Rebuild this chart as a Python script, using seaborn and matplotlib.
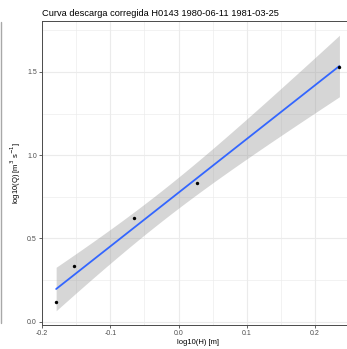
import numpy as np
import pandas as pd
import matplotlib
matplotlib.use("Agg")
import matplotlib.pyplot as plt
import seaborn as sns
from matplotlib.lines import Line2D
from matplotlib.ticker import MultipleLocator

# values
log_h = [-0.1795, -0.153, -0.065, 0.027, 0.236]
log_q = [0.12, 0.335, 0.62, 0.835, 1.53]
title = "Curva descarga corregida H0143 1980-06-11 1981-03-25"
x_ticks = [-0.2, -0.1, 0.0, 0.1, 0.2]
y_ticks = [0.0, 0.5, 1.0, 1.5]

df = pd.DataFrame({"log_h": log_h, "log_q": log_q})

sns.set_theme(style="whitegrid")
plt.rcParams["font.family"] = ["Liberation Sans", "DejaVu Sans"]

fig = plt.figure(figsize=(3.47, 3.49), dpi=100)
ax = fig.add_axes([0.121, 0.0702, 0.898, 0.8682])

# linear fit with t-based 95% band (like geom_smooth(method="lm"))
x = df["log_h"].to_numpy()
y = df["log_q"].to_numpy()
n = len(x)
slope, intercept = np.polyfit(x, y, 1)
resid = y - (intercept + slope * x)
s = np.sqrt(np.sum(resid ** 2) / (n - 2))
sxx = np.sum((x - x.mean()) ** 2)
t_crit = 3.182446  # t(0.975, df=3)
xs = np.linspace(x.min(), x.max(), 100)
fit = intercept + slope * xs
half = t_crit * s * np.sqrt(1 / n + (xs - x.mean()) ** 2 / sxx)

ax.fill_between(xs, fit - half, fit + half, color="#999999", alpha=0.4,
                linewidth=0, zorder=2)
sns.regplot(data=df, x="log_h", y="log_q", ax=ax, ci=None, scatter=False,
            line_kws={"color": "#3366FF", "lw": 1.3, "zorder": 3})
sns.scatterplot(data=df, x="log_h", y="log_q", ax=ax, color="black", s=6,
                linewidth=0, zorder=4)

# ggplot-like 5% expansion
xr = x.max() - x.min()
ax.set_xlim(x.min() - 0.05 * xr, x.max() + 0.05 * xr)
lo, hi = (fit - half).min(), (fit + half).max()
yr = hi - lo
ax.set_ylim(lo - 0.05 * yr, hi + 0.05 * yr)

ax.set_xticks(x_ticks)
ax.set_yticks(y_ticks)
ax.set_xticklabels([f"{v:.1f}" for v in x_ticks])
ax.set_yticklabels([f"{v:.1f}" for v in y_ticks])
ax.xaxis.set_minor_locator(MultipleLocator(0.05))
ax.yaxis.set_minor_locator(MultipleLocator(0.25))

ax.set_facecolor("white")
ax.grid(which="major", color="#EBEBEB", lw=0.8, zorder=0)
ax.grid(which="minor", color="#EBEBEB", lw=0.45, zorder=0)
ax.set_axisbelow(True)
for sp in ax.spines.values():
    sp.set_color("#4A4A4A")
    sp.set_linewidth(0.7)

ax.tick_params(which="major", length=2.5, width=0.6, color="#4A4A4A",
               labelsize=5, labelcolor="#4D4D4D", pad=1.2,
               bottom=True, left=True)
ax.tick_params(which="minor", length=0)

ax.set_xlabel("log10(H) [m]", fontsize=5.5, color="black", labelpad=2)
ax.set_ylabel(r"log10(Q) [m$^3$ s$^{-1}$]", fontsize=5.5, color="black", labelpad=3)
fig.text(42 / 347, 1 - 16 / 349, title, fontsize=6.65, color="black",
         ha="left", va="baseline")

# grey edge line at the far left of the reference
fig.add_artist(Line2D([0.0025, 0.0025], [1 - 22 / 349, 1 - 323 / 349],
                      transform=fig.transFigure, color="#A8A8A8", lw=1))

fig.savefig("out.png", dpi=100)
